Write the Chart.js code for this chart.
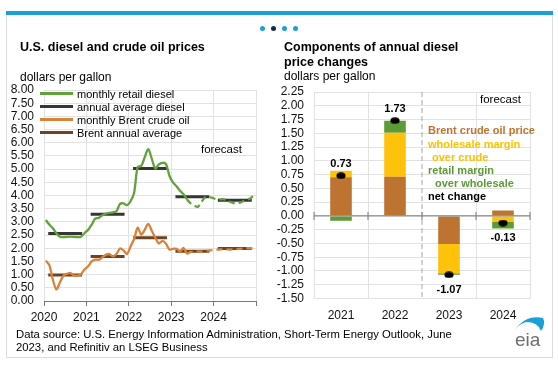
<!DOCTYPE html>
<html><head><meta charset="utf-8">
<script src="https://cdn.jsdelivr.net/npm/chart.js@4.4.0/dist/chart.umd.min.js"></script>
<style>
html,body{margin:0;padding:0;background:#fff;}
#wrap{position:relative;width:558px;height:368px;overflow:hidden;font-family:'Liberation Sans',Arial,sans-serif;color:#000;}
.t{position:absolute;white-space:nowrap;line-height:14px;}
.b{font-weight:bold;}
canvas{position:absolute;}
.dot{position:absolute;width:5px;height:5px;border-radius:50%;}
.lg{position:absolute;height:3px;width:33px;left:40px;}
</style></head><body>
<div id="wrap">
  <div style="position:absolute;left:6px;top:11px;width:545px;height:346px;border:1px solid #dcdcdc;border-top:none;"></div>
  <div style="position:absolute;left:6px;top:10.5px;width:547px;height:4px;background:#1a9fd9"></div>
  <div class="dot" style="left:260px;top:25.5px;background:#1a9fd9"></div>
  <div class="dot" style="left:271px;top:25.5px;background:#0d2c4a"></div>
  <div class="dot" style="left:282px;top:25.5px;background:#1a9fd9"></div>
  <div class="dot" style="left:293px;top:25.5px;background:#1a9fd9"></div>

  <canvas id="c1" width="270" height="331" style="left:0;top:0"></canvas>
  <canvas id="c2" width="288" height="330" style="left:270px;top:0"></canvas>

  <div class="t b" style="left:20px;top:40px;font-size:12.5px">U.S. diesel and crude oil prices</div>
  <div class="t" style="left:20px;top:69.5px;font-size:12px">dollars per gallon</div>

  <div class="lg" style="top:92px;background:#62a23a"></div>
  <div class="lg" style="top:105px;background:#363636"></div>
  <div class="lg" style="top:118px;background:#d8823a"></div>
  <div class="lg" style="top:131px;background:#6a4424"></div>
  <div class="t" style="left:77px;top:86.5px;font-size:11px">monthly retail diesel</div>
  <div class="t" style="left:77px;top:99.5px;font-size:11px">annual average diesel</div>
  <div class="t" style="left:77px;top:112.5px;font-size:11px">monthly Brent crude oil</div>
  <div class="t" style="left:77px;top:125.5px;font-size:11px">Brent annual average</div>
  <div class="t" style="left:201px;top:141.5px;font-size:11.5px">forecast</div>

  <div class="t b" style="left:284px;top:40px;font-size:12.5px">Components of annual diesel</div>
  <div class="t b" style="left:284px;top:55px;font-size:12.5px">price changes</div>
  <div class="t" style="left:284px;top:68.5px;font-size:12px">dollars per gallon</div>
  <div class="t" style="left:480px;top:91.5px;font-size:11.5px">forecast</div>

  <div class="t b" style="left:428px;top:123px;font-size:11px;color:#bf7430">Brent crude oil price</div>
  <div class="t b" style="left:428px;top:136.5px;font-size:11px;color:#ffc000">wholesale margin</div>
  <div class="t b" style="left:432px;top:149.5px;font-size:11px;color:#ffc000">over crude</div>
  <div class="t b" style="left:428px;top:163px;font-size:11px;color:#5c9b35">retail margin</div>
  <div class="t b" style="left:435px;top:175.5px;font-size:11px;color:#5c9b35">over wholesale</div>
  <div class="t b" style="left:428px;top:188.5px;font-size:11px;color:#000">net change</div>

  <div class="t" style="left:16px;top:326.5px;font-size:11.3px">Data source: U.S. Energy Information Administration, Short-Term Energy Outlook, June</div>
  <div class="t" style="left:16px;top:340px;font-size:11.3px">2023, and Refinitiv an LSEG Business</div>

  <svg style="position:absolute;left:505px;top:310px" width="45" height="45" viewBox="505 310 45 45">
    <path d="M513,333 Q524,314 543,318 Q546,324 541,331 Q538,322 526,322 Q518,324 513,333 Z" fill="#1a9fd9"/>
  </svg>
  <div class="t" style="left:515px;top:330px;font-size:19px;line-height:20px;color:#6d6e71">eia</div>
</div>
<script>
// ---------- data ----------
const years = [2020, 2021, 2022, 2023, 2024];
const dieselMonthly = [
  3.07, 2.90, 2.76, 2.57, 2.44, 2.42, 2.43, 2.44, 2.43, 2.42, 2.44, 2.58,
  2.70, 2.90, 3.12, 3.15, 3.25, 3.31, 3.34, 3.36, 3.40, 3.68, 3.70, 3.63,
  3.78, 4.10, 5.08, 5.12, 5.45, 5.76, 5.40, 5.02, 5.18, 5.24, 5.20, 4.75,
  4.50, 4.35, 4.18, 4.05, 3.85, 3.70, 3.62, 3.57, 3.74, 3.92, 3.95, 3.92,
  3.87, 3.85, 3.86, 3.83, 3.77, 3.72, 3.70, 3.73, 3.79, 3.84, 3.90, 4.04
];
const brentMonthly = [
  1.53, 1.36, 0.82, 0.44, 0.70, 0.96, 1.03, 1.06, 0.97, 0.96, 1.02, 1.20,
  1.32, 1.50, 1.57, 1.56, 1.65, 1.75, 1.78, 1.69, 1.78, 1.99, 1.92, 1.78,
  2.07, 2.35, 2.78, 2.52, 2.70, 2.92, 2.66, 2.40, 2.18, 2.28, 2.18, 1.95,
  1.98, 1.98, 1.88, 2.01, 1.80, 1.86, 1.85, 1.88, 1.87, 1.89, 1.91, 1.93,
  1.94, 1.95, 1.96, 1.96, 1.95, 1.96, 1.97, 1.98, 1.99, 2.00, 2.00, 2.02
];
const dieselAnnual = [2.56, 3.29, 5.02, 3.95, 3.82];
const brentAnnual  = [0.99, 1.69, 2.40, 1.89, 1.99];
const FORECAST_FROM = 40;           // May 2023: last historical month
const priceAxis = {min: 0, max: 8, step: 0.5};

const changeYears     = ['2021', '2022', '2023', '2024'];
const brentChange     = [0.70, 0.71, -0.51, 0.10];
const wholesaleChange = [0.12, 0.80, -0.53, -0.10];
const retailChange    = [-0.09, 0.22, -0.03, -0.13];
const netChange       = [0.73, 1.73, -1.07, -0.13];
const changeAxis = {min: -1.5, max: 2.25, step: 0.25};

// ---------- helpers ----------
const FONT = "'Liberation Sans', Arial, sans-serif";
Chart.defaults.font.family = FONT;
Chart.defaults.color = '#111';
const GRID = '#e2e2e2';

function monthlyPoints(values) {
  return values.map((v, i) => ({x: years[0] + (i + 0.5) / 12, y: v}));
}
function annualPoints(values) {
  const pts = [];
  values.forEach((v, k) => {
    pts.push({x: years[k] + 0.1, y: v}, {x: years[k] + 0.9, y: v}, {x: years[k] + 0.95, y: null});
  });
  return pts;
}
const forecastDash = ctx => ctx.p0DataIndex >= FORECAST_FROM ? [6, 4] : undefined;

// ---------- left chart ----------
new Chart(document.getElementById('c1'), {
  type: 'line',
  data: {
    datasets: [
      {label: 'monthly retail diesel', data: monthlyPoints(dieselMonthly), borderColor: '#62a23a',
       borderWidth: 2.3, pointRadius: 0, tension: 0.3, segment: {borderDash: forecastDash}},
      {label: 'monthly Brent crude oil', data: monthlyPoints(brentMonthly), borderColor: '#d8823a',
       borderWidth: 2.3, pointRadius: 0, tension: 0.3, segment: {borderDash: forecastDash}},
      {label: 'annual average diesel', data: annualPoints(dieselAnnual), borderColor: '#363636',
       borderWidth: 3, pointRadius: 0, spanGaps: false},
      {label: 'Brent annual average', data: annualPoints(brentAnnual), borderColor: '#6a4424',
       borderWidth: 3, pointRadius: 0, spanGaps: false}
    ]
  },
  options: {
    responsive: false, animation: false,
    layout: {padding: {top: 90, right: 14, left: 0, bottom: 0}},
    plugins: {legend: {display: false}, tooltip: {enabled: false}},
    scales: {
      x: {
        type: 'linear', min: years[0], max: years[years.length - 1] + 1,
        ticks: {stepSize: 1, autoSkip: false, maxRotation: 0, padding: 4, font: {size: 12},
                callback: v => (v <= years[years.length - 1] ? String(v) : '')},
        grid: {color: GRID, tickColor: '#777', tickLength: 5},
        border: {color: '#777', width: 1},
        afterFit: s => { s.height = 30; }
      },
      y: {
        min: priceAxis.min, max: priceAxis.max,
        ticks: {stepSize: priceAxis.step, autoSkip: false, padding: 10, font: {size: 12},
                callback: v => v.toFixed(2)},
        grid: {color: GRID, drawTicks: false},
        border: {display: false},
        afterFit: s => { s.width = 44; }
      }
    }
  }
});

// ---------- right chart ----------
const dot = document.createElement('canvas');
dot.width = 10; dot.height = 7;
(() => { const c = dot.getContext('2d'); c.fillStyle = '#000'; c.beginPath();
  c.ellipse(5, 3.5, 4.6, 3.2, 0, 0, Math.PI * 2); c.fill(); })();

const rightDecor = {
  id: 'rightDecor',
  beforeDatasetsDraw(chart) {
    const {ctx, chartArea: a, scales: {x}} = chart;
    const xd = x.getPixelForValue(1.5);
    ctx.save();
    ctx.strokeStyle = '#a6a6a6'; ctx.lineWidth = 1; ctx.setLineDash([5, 3]);
    ctx.beginPath(); ctx.moveTo(xd, a.top); ctx.lineTo(xd, a.bottom); ctx.stroke();
    ctx.restore();
  },
  afterDatasetsDraw(chart) {
    const {ctx, chartArea: a, scales: {x, y}} = chart;
    const y0 = y.getPixelForValue(0);
    ctx.save();
    ctx.strokeStyle = '#8a8a8a'; ctx.lineWidth = 1.2;
    ctx.beginPath(); ctx.moveTo(a.left, y0); ctx.lineTo(a.right, y0); ctx.stroke();
    for (let i = 0; i <= changeYears.length; i++) {
      const xb = x.getPixelForValue(i - 0.5);
      ctx.beginPath(); ctx.moveTo(xb, y0 - 4); ctx.lineTo(xb, y0 + 4); ctx.stroke();
    }
    const meta = chart.getDatasetMeta(3);
    ctx.fillStyle = '#000';
    ctx.font = 'bold 11px ' + FONT;
    ctx.textAlign = 'center'; ctx.textBaseline = 'middle';
    meta.data.forEach((el, i) => {
      const v = netChange[i];
      ctx.fillText(v.toFixed(2), el.x, v >= 0 ? el.y - 12 : el.y + 15);
    });
    ctx.restore();
  }
};

const barCommon = {stack: 'parts', barPercentage: 0.4, categoryPercentage: 1, borderWidth: 0};
new Chart(document.getElementById('c2'), {
  type: 'bar',
  data: {
    labels: changeYears,
    datasets: [
      Object.assign({label: 'Brent crude oil price', data: brentChange, backgroundColor: '#bd7431'}, barCommon),
      Object.assign({label: 'wholesale margin over crude', data: wholesaleChange, backgroundColor: '#ffc20a'}, barCommon),
      Object.assign({label: 'retail margin over wholesale', data: retailChange, backgroundColor: '#5c9b35'}, barCommon),
      {type: 'line', label: 'net change', data: netChange, stack: 'net', showLine: false, order: -1,
       pointStyle: dot, pointRadius: 4, borderColor: '#000', backgroundColor: '#000'}
    ]
  },
  options: {
    responsive: false, animation: false,
    layout: {padding: {top: 92, right: 28, left: 0, bottom: 0}},
    plugins: {legend: {display: false}, tooltip: {enabled: false}},
    scales: {
      x: {
        stacked: true,
        ticks: {padding: 10, font: {size: 12}, maxRotation: 0},
        grid: {offset: true, drawTicks: false, color: ctx => (ctx.index === 2 ? 'rgba(0,0,0,0)' : GRID)},
        border: {display: false},
        afterFit: s => { s.height = 31.5; }
      },
      y: {
        stacked: true, min: changeAxis.min, max: changeAxis.max,
        ticks: {stepSize: changeAxis.step, autoSkip: false, padding: 10, font: {size: 12},
                callback: v => v.toFixed(2)},
        grid: {color: GRID, drawTicks: false},
        border: {display: false},
        afterFit: s => { s.width = 44; }
      }
    }
  },
  plugins: [rightDecor]
});
</script>
</body></html>
